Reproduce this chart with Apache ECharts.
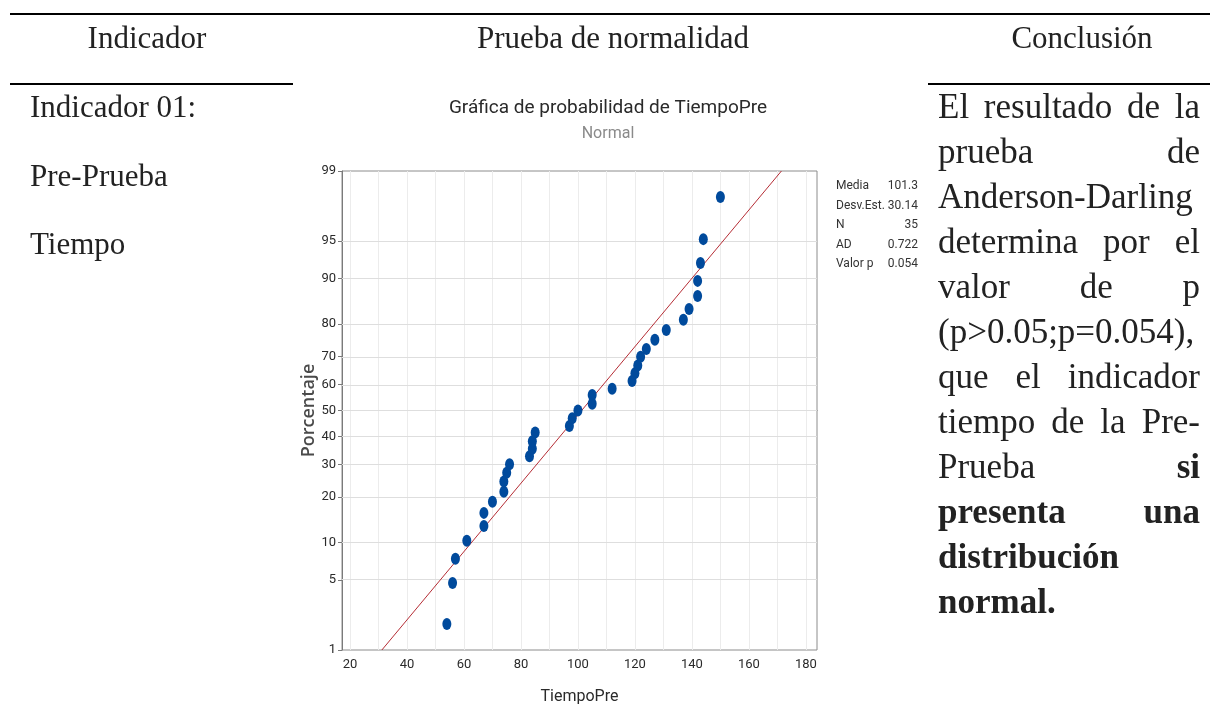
<!DOCTYPE html>
<html lang="es">
<head>
<meta charset="utf-8">
<title>Prueba de normalidad - TiempoPre</title>
<script src="https://cdn.jsdelivr.net/npm/echarts@6/dist/echarts.min.js"></script>
<style>
  html, body { margin: 0; padding: 0; background: #fff; }
  body { width: 1210px; height: 709px; position: relative; overflow: hidden;
         font-family: 'Liberation Serif', 'Times New Roman', serif; color: #222; }
  #chart { position: absolute; left: 0; top: 0; width: 1210px; height: 709px; }
  .rule { position: absolute; background: #000; height: 2px; }
  .txt { position: absolute; white-space: nowrap; line-height: 40px; }
  .head { font-size: 31px; text-align: center; }
  .left { font-size: 31px; left: 30px; }
  .just { position: absolute; left: 938px; width: 262px; font-size: 35px; line-height: 45px;
          display: flex; justify-content: space-between; white-space: nowrap; }
  .just.single { justify-content: flex-start; }
  b { font-weight: bold; }
</style>
</head>
<body>
<div id="chart"></div>

<div class="rule" style="left:10px; top:13px; width:1200px;"></div>
<div class="rule" style="left:10px; top:83px; width:283px;"></div>
<div class="rule" style="left:928px; top:83px; width:282px;"></div>

<div class="txt head" style="left:47px; width:200px; top:18px;">Indicador</div>
<div class="txt head" style="left:463px; width:300px; top:18px;">Prueba de normalidad</div>
<div class="txt head" style="left:982px; width:200px; top:18px;">Conclusión</div>

<div class="txt left" style="top:87px;">Indicador 01:</div>
<div class="txt left" style="top:156px;">Pre-Prueba</div>
<div class="txt left" style="top:224px;">Tiempo</div>

<div id="conclusion"></div>

<script>
// Valores de TiempoPre (ordenados) y su porcentaje acumulado en la gráfica
const tiempoPre = [54, 56, 57, 61, 67, 67, 70, 74, 74, 75, 76, 83, 84, 84, 85, 97, 98, 100,
                   105, 105, 112, 119, 120, 121, 122, 124, 127, 131, 137, 139, 142, 142, 143, 144, 150];
const porcentaje = [1.9, 4.7, 7.5, 10.3, 13.1, 16.0, 18.8, 21.5, 24.5, 27.3, 30.1, 32.8, 35.5, 38.3,
                    41.5, 44.0, 47.0, 50.0, 52.6, 56.0, 58.4, 61.3, 64.1, 66.9, 69.9, 72.5, 75.4,
                    78.3, 81.1, 83.8, 86.7, 89.6, 92.4, 95.2, 98.1];

// Marcas de los ejes
const yTickLabels = [1, 5, 10, 20, 30, 40, 50, 60, 70, 80, 90, 95, 99];
const xTickLabels = [20, 40, 60, 80, 100, 120, 140, 160, 180];
const xGridValues = [20, 30, 40, 50, 60, 70, 80, 90, 100, 110, 120, 130, 140, 150, 160, 170, 180];

// Resumen estadístico
const statLabels = ['Media', 'Desv.Est.', 'N', 'AD', 'Valor p'];
const statValues = ['101.3', '30.14', '35', '0.722', '0.054'];
const media = 101.3;
const desvEst = 30.14;

// Texto de la conclusión, línea por línea (justificado)
const conclusionLines = [
  ['El', 'resultado', 'de', 'la'],
  ['prueba', 'de'],
  ['Anderson-Darling'],
  ['determina', 'por', 'el'],
  ['valor', 'de', 'p'],
  ['(p>0.05;p=0.054),'],
  ['que', 'el', 'indicador'],
  ['tiempo', 'de', 'la', 'Pre-'],
  ['Prueba', '<b>si</b>'],
  ['<b>presenta</b>', '<b>una</b>'],
  ['<b>distribución</b>'],
  ['<b>normal.</b>']
];

const box = document.getElementById('conclusion');
conclusionLines.forEach((words, i) => {
  const row = document.createElement('div');
  row.className = 'just' + (words.length === 1 ? ' single' : '');
  row.style.top = (84 + i * 45) + 'px';
  row.innerHTML = words.map(w => '<span>' + w + '</span>').join('');
  box.appendChild(row);
});

// Escala de probabilidad normal: convierte una proporción en su cuantil z
function probit(p) {
  const a = [-3.969683028665376e+01, 2.209460984245205e+02, -2.759285104469687e+02,
             1.383577518672690e+02, -3.066479806614716e+01, 2.506628277459239e+00];
  const b = [-5.447609879822406e+01, 1.615858368580409e+02, -1.556989798598866e+02,
             6.680131188771972e+01, -1.328068155288572e+01];
  const c = [-7.784894002430293e-03, -3.223964580411365e-01, -2.400758277161838e+00,
             -2.549732539343734e+00, 4.374664141464968e+00, 2.938163982698783e+00];
  const d = [7.784695709041462e-03, 3.224671290700398e-01, 2.445134137142996e+00,
             3.754408661907416e+00];
  const pl = 0.02425, ph = 1 - pl;
  let q, r;
  if (p < pl) {
    q = Math.sqrt(-2 * Math.log(p));
    return (((((c[0]*q+c[1])*q+c[2])*q+c[3])*q+c[4])*q+c[5]) / ((((d[0]*q+d[1])*q+d[2])*q+d[3])*q+1);
  }
  if (p > ph) {
    q = Math.sqrt(-2 * Math.log(1 - p));
    return -(((((c[0]*q+c[1])*q+c[2])*q+c[3])*q+c[4])*q+c[5]) / ((((d[0]*q+d[1])*q+d[2])*q+d[3])*q+1);
  }
  q = p - 0.5; r = q * q;
  return (((((a[0]*r+a[1])*r+a[2])*r+a[3])*r+a[4])*r+a[5])*q / (((((b[0]*r+b[1])*r+b[2])*r+b[3])*r+b[4])*r+1);
}

const zTicks = yTickLabels.map(p => probit(p / 100));
const zMin = zTicks[0];
const zMax = zTicks[zTicks.length - 1];

const points = tiempoPre.map((x, i) => [x, probit(porcentaje[i] / 100)]);
const fitLine = [[media + desvEst * zMin, zMin], [media + desvEst * zMax, zMax]];

const labelFont = 'Roboto, "Noto Sans", sans-serif';
const statGraphics = [];
statLabels.forEach((lab, i) => {
  const y = 186 + i * 19.5;
  statGraphics.push({
    type: 'text', x: 836, y: y, silent: true,
    style: { text: lab, fontSize: 12, fontFamily: labelFont, fill: '#333',
             textAlign: 'left', textVerticalAlign: 'middle', align: 'left', verticalAlign: 'middle' }
  });
  statGraphics.push({
    type: 'text', x: 918, y: y, silent: true,
    style: { text: statValues[i], fontSize: 12, fontFamily: labelFont, fill: '#333',
             textAlign: 'right', textVerticalAlign: 'middle', align: 'right', verticalAlign: 'middle' }
  });
});

const chart = echarts.init(document.getElementById('chart'), null, { renderer: 'canvas' });
chart.setOption({
  animation: false,
  backgroundColor: 'transparent',
  grid: { left: 342, right: 393, top: 171, bottom: 59, show: true, outerBoundsMode: 'none',
          containLabel: false, borderColor: '#8c8c8c', borderWidth: 1, backgroundColor: 'transparent' },
  graphic: [
    { type: 'text', x: 608, y: 108, silent: true,
      style: { text: 'Gráfica de probabilidad de TiempoPre', fontSize: 19, fontFamily: labelFont,
               fill: '#2a2a2a', textAlign: 'center', textVerticalAlign: 'middle',
               align: 'center', verticalAlign: 'middle' } },
    { type: 'text', x: 608, y: 134, silent: true,
      style: { text: 'Normal', fontSize: 16, fontFamily: labelFont, fill: '#8a8a8a',
               textAlign: 'center', textVerticalAlign: 'middle',
               align: 'center', verticalAlign: 'middle' } }
  ].concat(statGraphics),
  xAxis: {
    type: 'value', min: 17.2, max: 183.9,
    name: 'TiempoPre', nameLocation: 'middle', nameGap: 39,
    nameTextStyle: { fontSize: 16, fontFamily: labelFont, color: '#2a2a2a' },
    axisLine: { show: true, lineStyle: { color: '#7a7a7a', width: 1 } },
    axisTick: { show: true, length: 5, customValues: xTickLabels, lineStyle: { color: '#7a7a7a' } },
    axisLabel: { customValues: xTickLabels, margin: 8, fontSize: 13, fontFamily: labelFont, color: '#2a2a2a' },
    splitLine: { show: false }
  },
  yAxis: {
    type: 'value', min: zMin, max: zMax,
    name: 'Porcentaje', nameLocation: 'middle', nameGap: 23, nameRotate: 90,
    nameTextStyle: { fontSize: 18, fontWeight: 600, fontFamily: '"Open Sans", sans-serif', color: '#4a4a4a' },
    axisLine: { show: true, lineStyle: { color: '#7a7a7a', width: 1 } },
    axisTick: { show: true, length: 4, customValues: zTicks, lineStyle: { color: '#7a7a7a' } },
    axisLabel: {
      customValues: zTicks, margin: 6, fontSize: 13, fontFamily: labelFont, color: '#2a2a2a',
      formatter: v => {
        let best = 0;
        zTicks.forEach((z, i) => { if (Math.abs(z - v) < Math.abs(zTicks[best] - v)) best = i; });
        return String(yTickLabels[best]);
      }
    },
    splitLine: { show: false }
  },
  series: [
    { // líneas de cuadrícula verticales
      type: 'line', data: [], silent: true, z: 1,
      markLine: { silent: true, z: 1, symbol: ['none', 'none'], label: { show: false },
                  lineStyle: { color: '#ececec', width: 1, type: 'solid' },
                  data: xGridValues.map(v => ({ xAxis: v })) }
    },
    { // líneas de cuadrícula horizontales
      type: 'line', data: [], silent: true, z: 1,
      markLine: { silent: true, z: 1, symbol: ['none', 'none'], label: { show: false },
                  lineStyle: { color: '#dedede', width: 1, type: 'solid' },
                  data: zTicks.map(z => ({ yAxis: z })) }
    },
    { // recta de ajuste normal
      type: 'line', data: fitLine, symbol: 'none', silent: true, z: 6,
      lineStyle: { color: '#b52d35', width: 1 }
    },
    { // observaciones
      type: 'scatter', data: points, symbol: 'circle', symbolSize: [9, 12], z: 8,
      itemStyle: { color: '#004a9c', opacity: 1 }
    }
  ]
});
</script>
</body>
</html>
